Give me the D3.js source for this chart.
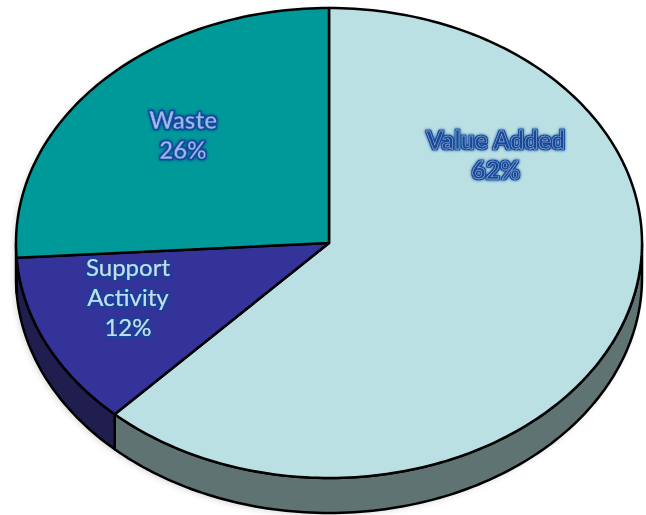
<!DOCTYPE html>
<html>
<head>
<meta charset="utf-8">
<script src="https://cdn.jsdelivr.net/npm/d3@7"></script>
<style>
  body { margin: 0; background: #fff; }
  svg { display: block; }
</style>
</head>
<body>
<div id="chart"></div>
<script>
const categories = ["Value Added", "Support Activity", "Waste"];
const values = [62, 12, 26];
const topColors = ["#bbe0e3", "#333399", "#009999"];
const sideColors = ["#5f7373", "#1f1e4e", "#005c5c"];
const labelLines = [["Value Added", "62%"], ["Support", "Activity", "12%"], ["Waste", "26%"]];
const labelFill = ["#1a4796", "#c6dbef", "#9ab8ea"];
const labelEdge = ["#9fc0e6", "none", "#1c4a9a"];
const labelWeight = ["bold", "normal", "bold"];
// label anchors (centre of text block), layout only
const labelAt = [[496, 156], [128, 298], [183, 136]];

const width = 646, height = 515;
const cx = 329, cy = 243, rx = 313, ry = 235, depth = 35;

const svg = d3.select("#chart").append("svg")
    .attr("width", width)
    .attr("height", height);

const defs = svg.append("defs");
const glow = defs.append("filter").attr("id", "glow")
    .attr("x", "-20%").attr("y", "-30%").attr("width", "140%").attr("height", "160%");
glow.append("feMorphology").attr("in", "SourceAlpha").attr("operator", "dilate").attr("radius", 1.3).attr("result", "thick");
glow.append("feFlood").attr("flood-color", "#12479c").attr("result", "col");
glow.append("feComposite").attr("in", "col").attr("in2", "thick").attr("operator", "in").attr("result", "outline");
glow.append("feGaussianBlur").attr("in", "outline").attr("stdDeviation", 1.6).attr("result", "soft");
const merge = glow.append("feMerge");
merge.append("feMergeNode").attr("in", "soft");
merge.append("feMergeNode").attr("in", "outline");
merge.append("feMergeNode").attr("in", "SourceGraphic");

const shadow = defs.append("filter").attr("id", "shadow")
    .attr("x", "-10%").attr("y", "-10%").attr("width", "120%").attr("height", "120%");
shadow.append("feGaussianBlur").attr("stdDeviation", 3);

const pie = d3.pie().sort(null).value(d => d);
const arcs = pie(values);

// point on the tilted rim, angle clockwise from 12 o'clock
const pt = (a, h = 0) => [cx + rx * Math.sin(a), cy - ry * Math.cos(a) + h];

function arcPoints(a0, a1, h) {
    const n = Math.max(2, Math.ceil(Math.abs(a1 - a0) / 0.02));
    return d3.range(n + 1).map(i => pt(a0 + (a1 - a0) * i / n, h));
}

const line = d3.line();

// faint shadow under the whole pie
svg.append("path")
    .attr("d", line(arcPoints(Math.PI / 2, 3 * Math.PI / 2, depth).concat(arcPoints(3 * Math.PI / 2, 2.5 * Math.PI, 0))) + "Z")
    .attr("fill", "#000")
    .attr("opacity", 0.15)
    .attr("transform", "translate(-2,2)")
    .attr("filter", "url(#shadow)");

// side walls (front half only)
const g = svg.append("g");
arcs.forEach((d, i) => {
    const a0 = Math.max(d.startAngle, Math.PI / 2);
    const a1 = Math.min(d.endAngle, 3 * Math.PI / 2);
    if (a1 <= a0) return;
    const pts = arcPoints(a0, a1, 0).concat(arcPoints(a1, a0, depth));
    g.append("path")
        .attr("d", line(pts) + "Z")
        .attr("fill", sideColors[i])
        .attr("stroke", "#000")
        .attr("stroke-width", 2.5)
        .attr("stroke-linejoin", "round");
});

// top faces
arcs.forEach((d, i) => {
    const pts = [[cx, cy]].concat(arcPoints(d.startAngle, d.endAngle, 0));
    g.append("path")
        .attr("d", line(pts) + "Z")
        .attr("fill", topColors[i])
        .attr("stroke", "#000")
        .attr("stroke-width", 2.5)
        .attr("stroke-linejoin", "round");
});

// labels
const lh = 30;
arcs.forEach((d, i) => {
    const lines = labelLines[i];
    const [lx, ly] = labelAt[i];
    const t = svg.append("text")
        .attr("text-anchor", "middle")
        .attr("font-family", "Lato, 'Open Sans', sans-serif")
        .attr("font-size", 24)
        .attr("font-weight", labelWeight[i])
        .attr("fill", labelFill[i])
        .attr("stroke", labelEdge[i])
        .attr("stroke-width", 0.45)
        .attr("letter-spacing", i === 0 ? 0.4 : 0)
        .attr("filter", "url(#glow)");
    lines.forEach((s, k) => {
        t.append("tspan")
            .attr("x", lx)
            .attr("y", ly + (k - (lines.length - 1) / 2) * lh + 8)
            .text(s);
    });
});
</script>
</body>
</html>
